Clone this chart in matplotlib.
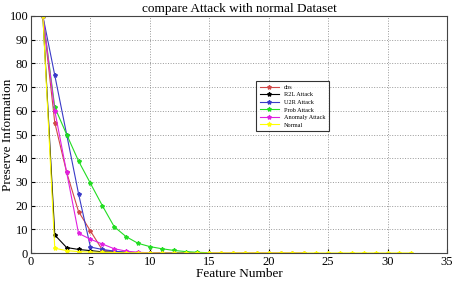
import matplotlib.pyplot as plt
import numpy as np

plt.rcParams['font.family'] = ['Liberation Serif', 'DejaVu Serif']

# preserve information per feature number (x starts at 1)
dos = [100, 55, 34, 17.5, 9.3, 1.3, 0.6, 0.3, 0.2, 0.1, 0.1, 0.05, 0, 0, 0,
       0, 0, 0, 0, 0, 0, 0, 0]
r2l = [100, 7.6, 2.3, 1.5, 1.0, 0.5, 0.3, 0.2, 0.1, 0.05, 0, 0, 0, 0]
u2r = [100, 75, 50, 25, 2.5, 1.5, 0.8, 0.3, 0.1, 0.05, 0, 0, 0, 0]
prob = [100, 61.5, 50, 38.8, 29.4, 20, 11.1, 6.9, 4.1, 2.7, 1.8, 1.1, 0.6,
        0.3, 0.1]
anomaly = [100, 60, 34, 8.3, 5.8, 3.8, 1.8, 0.8, 0.3, 0.1, 0.05, 0]
normal = [100, 2.0, 1.0, 0.6, 0.4, 0.3, 0.2, 0.1, 0.1, 0.05, 0, 0, 0, 0, 0,
          0, 0, 0, 0, 0, 0, 0, 0, 0, 0, 0, 0, 0, 0, 0, 0, 0]

series = [
    ('dos', dos, '#d04848'),
    ('R2L Attack', r2l, 'black'),
    ('U2R Attack', u2r, '#3a3ac8'),
    ('Prob Attack', prob, '#22dd22'),
    ('Anomaly Attack', anomaly, '#e020e0'),
    ('Normal', normal, '#ffff00'),
]

fig = plt.figure(figsize=(4.56, 2.82), dpi=100)
ax = fig.add_axes([31 / 456, 29 / 282, 416 / 456, 237 / 282])

for name, vals, col in series:
    x = np.arange(1, len(vals) + 1)
    ax.plot(x, vals, '-', marker='*', color=col, lw=0.8, markersize=3,
            label=name)

ax.set_xlim(0, 35)
ax.set_ylim(0, 100)
ax.set_xticks(range(0, 36, 5))
ax.set_yticks(range(0, 101, 10))
ax.grid(True, linestyle=':', color='#999999', linewidth=0.7)
ax.tick_params(direction='in', labelsize=9, length=3, pad=2)
for s in ax.spines.values():
    s.set_linewidth(0.8)
    s.set_color('#444444')

ax.set_title('compare Attack with normal Dataset', fontsize=9.5, pad=3)
ax.set_xlabel('Feature Number', fontsize=9.5, labelpad=0)
ax.set_ylabel('Preserve Information', fontsize=9.5)
ax.yaxis.set_label_coords(-0.04, 0.5)

leg = ax.legend(loc='upper left', bbox_to_anchor=(0.534, 0.74),
                fontsize=4.5, frameon=True, fancybox=False,
                handlelength=3, borderpad=0.6, labelspacing=0.35)
leg.get_frame().set_edgecolor('black')
leg.get_frame().set_linewidth(0.8)

fig.savefig('out.png', dpi=100)
